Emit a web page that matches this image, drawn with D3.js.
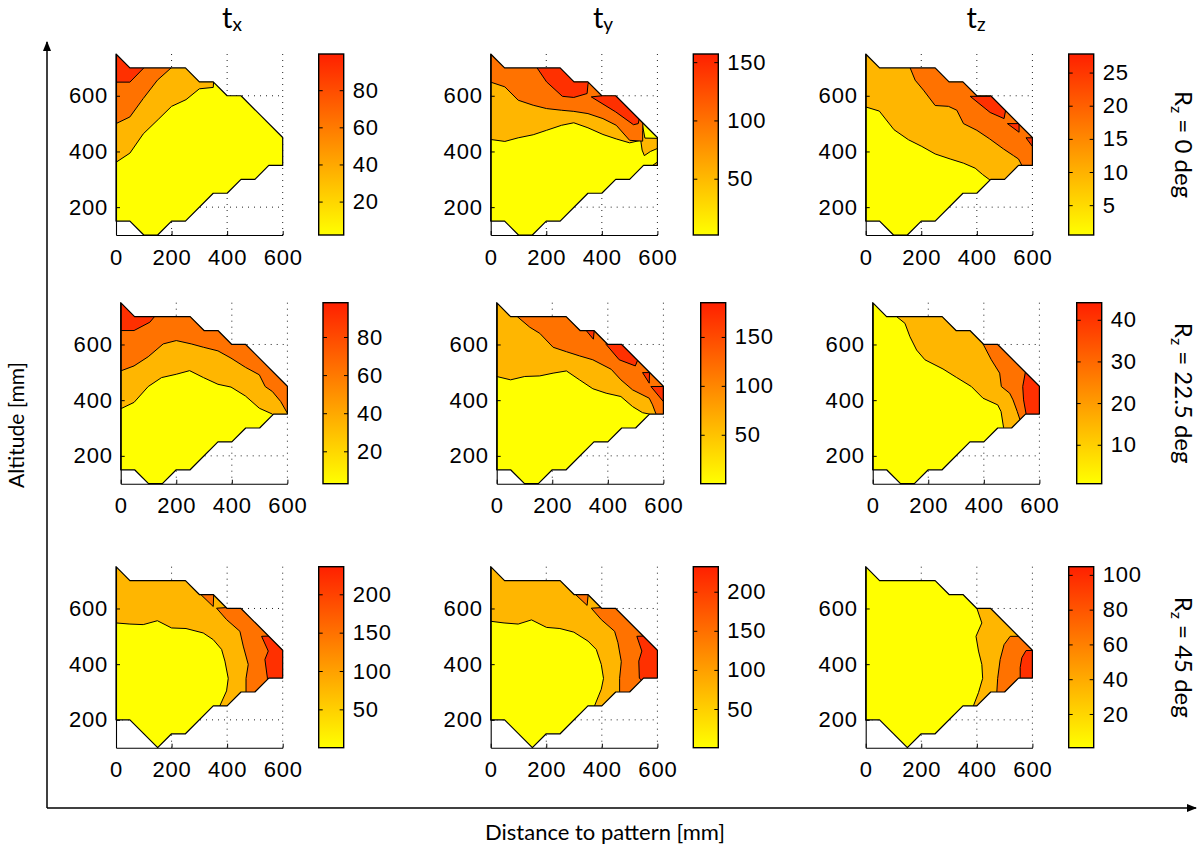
<!DOCTYPE html>
<html>
<head>
<meta charset="utf-8">
<script src="https://cdn.jsdelivr.net/npm/d3@7"></script>
<style>
body { margin: 0; background: #fff; }
text { font-family: "Liberation Sans", Arial, sans-serif; }
.lab { font-family: Lato, "Open Sans", sans-serif; }
</style>
</head>
<body>
<div id="chart"></div>
<script>
// column / row labels
const components = ["x", "y", "z"]
const rotations = ["0", "22.5", "45"]
const xTicks = [0, 200, 400, 600]
const yTicks = [200, 400, 600]

// measured region of each panel (mm)
const domainFull = [[0,750],[50,700],[250,700],[300,650],[350,650],[400,600],[450,600],[600,450],[600,350],[550,350],[500,300],[450,300],[400,250],[350,250],[250,150],[200,150],[150,100],[100,100],[50,150],[0,150]]
const domainCut = [[0,750],[50,700],[250,700],[300,650],[350,650],[400,600],[450,600],[600,450],[600,350],[550,350],[500,300],[450,300],[400,250],[350,250],[250,150],[200,150],[150,100],[50,200],[0,200]]

// colour bar ranges and ticks, row by row
const cbarRange = [[2, 99.5], [1.7, 157], [0.5, 27.8], [3, 98], [0, 185], [0.65, 44.1], [0, 236], [0.5, 232], [0.6, 104.7]]
const cbarTicks = [[20,40,60,80], [50,100,150], [5,10,15,20,25], [20,40,60,80], [50,100,150], [10,20,30,40], [50,100,150,200], [50,100,150,200], [20,40,60,80,100]]

// filled contour levels: for each level a list of regions (x, altitude), clipped to the domain
const txRz0 = [
    [[[-10,361],[0,361],[50,394],[98,463],[152,515],[200,562],[252,586],[300,625],[350,630],[352,660],[352,800],[-10,800]]],
    [[[-10,500],[0,500],[50,524],[98,590],[149,656],[205,706],[205,800],[-10,800]]],
    [[[-10,649],[50,649],[105,705],[105,800],[-10,800]]]
]
const tyRz0 = [
    [[[-10,443],[0,443],[51,436],[99,449],[153,460],[201,476],[255,494],[299,503],[350,485],[404,461],[452,445],[500,431],[540,440],[545,405],[553,385],[575,400],[610,415],[610,447],[555,448],[544,508],[544,800],[-10,800]],
     [[583,350],[600,362],[610,362],[610,340],[583,340]]],
    [[[-10,649],[0,649],[51,632],[99,584],[153,566],[201,554],[255,548],[299,544],[350,536],[404,518],[452,494],[500,440],[547,437],[547,476],[548,510],[548,800],[-10,800]]],
    [[[160,710],[167,700],[201,650],[258,598],[299,594],[347,608],[350,640],[355,660],[355,800],[160,800]],
     [[362,596],[400,600],[405,610],[470,650],[560,560],[535,518],[531,500],[514,496],[450,542]]]
]
const tzRz0 = [
    [[[-10,560],[0,560],[49,545],[102,478],[154,442],[202,418],[250,391],[304,373],[352,358],[394,340],[421,317],[448,297],[460,285],[700,285],[700,800],[-10,800]]],
    [[[150,710],[160,700],[178,656],[208,620],[250,565],[298,562],[328,548],[352,500],[400,476],[445,446],[496,409],[532,385],[550,373],[562,350],[565,340],[700,340],[700,800],[150,800]]],
    [[[376,598],[448,598],[455,610],[505,555],[498,518],[448,540]],
     [[510,500],[552,500],[552,469]],
     [[577,449],[605,449],[605,418],[600,418]]]
]
const txRz22 = [
    [[[-10,369],[0,369],[48,392],[99,449],[147,481],[200,493],[248,506],[298,481],[350,457],[397,447],[449,415],[499,371],[546,350],[550,340],[700,340],[700,800],[-10,800]]],
    [[[-10,505],[0,505],[48,523],[99,556],[153,602],[200,614],[254,602],[298,590],[350,577],[397,551],[449,518],[499,491],[520,449],[546,431],[576,395],[600,353],[610,353],[610,800],[-10,800]]],
    [[[-10,650],[48,650],[105,680],[130,710],[130,800],[-10,800]]]
]
const tyRz22 = [
    [[[-10,485],[0,485],[50,473],[101,485],[155,487],[203,497],[251,505],[298,473],[346,441],[394,425],[447,413],[489,377],[525,355],[550,350],[555,340],[700,340],[700,800],[-10,800]]],
    [[[70,710],[74,700],[119,662],[155,640],[203,590],[251,574],[298,559],[346,545],[412,511],[447,473],[489,437],[549,407],[561,383],[573,351],[575,340],[700,340],[700,800],[70,800]]],
    [[[318,655],[352,660],[348,619]],
     [[394,600],[395,610],[455,610],[510,550],[499,523],[441,545]],
     [[525,499],[550,499],[549,461]],
     [[555,449],[600,449],[600,395]]]
]
const tzRz22 = [
    [[[80,710],[86,700],[116,676],[134,628],[158,580],[188,545],[253,512],[301,482],[355,449],[397,407],[450,383],[462,359],[471,302],[475,290],[700,290],[700,800],[80,800]]],
    [[[390,620],[396,604],[427,545],[457,497],[463,449],[493,425],[505,401],[520,360],[530,330],[535,318],[700,318],[700,800],[390,800]]],
    [[[548,510],[550,503],[540,449],[543,401],[552,351],[555,340],[700,340],[700,510]]]
]
const txRz45 = [
    [[[-10,548],[0,548],[50,544],[98,542],[149,556],[200,530],[252,528],[314,512],[350,488],[380,453],[392,411],[404,349],[398,304],[374,251],[372,240],[700,240],[700,800],[-10,800]]],
    [[[300,655],[352,660],[350,607]],
     [[362,601],[398,560],[446,518],[458,465],[476,399],[468,349],[468,301],[470,290],[700,290],[700,620],[400,620],[398,603]]],
    [[[524,500],[550,501],[560,510],[620,450],[620,340],[545,340],[545,350],[536,417],[548,447]]]
]
const tyRz45 = [
    [[[-10,554],[0,554],[48,548],[99,544],[147,559],[201,532],[249,528],[299,515],[350,483],[380,453],[398,399],[406,349],[398,310],[374,251],[372,240],[700,240],[700,800],[-10,800]]],
    [[[300,655],[352,660],[347,611]],
     [[362,601],[398,560],[446,518],[458,477],[470,409],[464,349],[464,301],[466,290],[700,290],[700,620],[400,620],[398,603]]],
    [[[526,500],[550,501],[560,510],[620,450],[620,340],[545,340],[535,350],[533,411],[544,447]]]
]
const tzRz45 = [
    [[[395,620],[400,601],[418,548],[397,500],[406,447],[418,399],[421,349],[406,298],[388,251],[385,240],[700,240],[700,620]]],
    [[[520,500],[560,500],[570,520],[700,520],[700,290],[475,290],[472,301],[475,349],[484,417],[498,470]]],
    [[[577,449],[610,449],[610,340],[556,340],[556,388],[562,423]]]
]

const contours = [txRz0, tyRz0, tzRz0, txRz22, tyRz22, tzRz22, txRz45, tyRz45, tzRz45]
const levelColors = ["#ffff00", "#ffb600", "#ff7200", "#ff3000"]

// layout (pixels)
const rowTop = [54, 302.7, 566.7]
const plotW = 166.7, plotH = 181, cbarW = 25
const plotX = [[116, 490.7, 865.7], [120.7, 496.7, 872.7], [116, 490.7, 865.7]]
const cbarX = [[318.7, 693.3, 1068.7], [323, 700.7, 1076.7], [318.7, 693.3, 1068.7]]

const svg = d3.select("#chart")
    .append("svg")
    .attr("width", 1203)
    .attr("height", 852)

const defs = svg.append("defs")
const grad = defs.append("linearGradient")
    .attr("id", "cmap")
    .attr("x1", 0).attr("y1", 1).attr("x2", 0).attr("y2", 0)
grad.append("stop").attr("offset", 0).attr("stop-color", "#ffff00")
grad.append("stop").attr("offset", 1).attr("stop-color", "#ff2000")

const arrow = defs.append("marker")
    .attr("id", "arrow")
    .attr("viewBox", "0 0 10 10")
    .attr("refX", 9).attr("refY", 5)
    .attr("markerWidth", 7).attr("markerHeight", 7)
    .attr("orient", "auto")
arrow.append("path").attr("d", "M0,1 L10,5 L0,9 Z").attr("fill", "#000")

const tickStyle = sel => sel
    .attr("font-size", 22)
    .attr("fill", "#000")
    .style("letter-spacing", "0.8px")
    .style("font-family", "'Liberation Sans', Arial, sans-serif")

contours.forEach((levels, i) => {
    const r = Math.floor(i / 3), c = i % 3
    const x0 = plotX[r][c], top = rowTop[r], bottom = top + plotH
    const domain = r === 2 ? domainCut : domainFull

    const x = d3.scaleLinear().domain([0, 600]).range([x0, x0 + plotW])
    const y = d3.scaleLinear().domain([100, 750]).range([bottom, top])
    const shape = d3.line().x(d => x(d[0])).y(d => y(d[1]))
    const closed = pts => shape(pts) + "Z"

    const g = svg.append("g")

    defs.append("clipPath")
        .attr("id", `clip-${i}`)
        .append("path")
        .attr("d", closed(domain))

    // dotted grid
    g.selectAll(".gx")
        .data(xTicks.filter(t => t > 0))
        .enter()
        .append("line")
        .attr("x1", d => x(d)).attr("x2", d => x(d))
        .attr("y1", y(100)).attr("y2", y(750))
        .attr("stroke", "#222").attr("stroke-width", 1).attr("stroke-dasharray", "1,5")
    g.selectAll(".gy")
        .data(yTicks)
        .enter()
        .append("line")
        .attr("x1", x(0)).attr("x2", x(600))
        .attr("y1", d => y(d)).attr("y2", d => y(d))
        .attr("stroke", "#222").attr("stroke-width", 1).attr("stroke-dasharray", "1,5")

    // filled contours
    g.append("path")
        .attr("d", closed(domain))
        .attr("fill", levelColors[0])

    levels.forEach((regions, k) => {
        g.selectAll(`.lv${k}`)
            .data(regions)
            .enter()
            .append("path")
            .attr("d", closed)
            .attr("fill", levelColors[k + 1])
            .attr("stroke", "#000")
            .attr("stroke-width", 1)
            .attr("stroke-linejoin", "round")
            .attr("clip-path", `url(#clip-${i})`)
    })

    g.append("path")
        .attr("d", closed(domain))
        .attr("fill", "none")
        .attr("stroke", "#000")
        .attr("stroke-width", 1.2)
        .attr("stroke-linejoin", "round")

    // axes
    const ax = g.append("g")
        .attr("transform", `translate(0,${bottom})`)
        .call(d3.axisBottom(x).tickValues(xTicks).tickSizeInner(-4).tickSizeOuter(0).tickPadding(14))
    const ay = g.append("g")
        .attr("transform", `translate(${x0},0)`)
        .call(d3.axisLeft(y).tickValues(yTicks).tickSizeInner(-4).tickSizeOuter(0).tickPadding(8))
    ;[ax, ay].forEach(a => {
        a.selectAll("text").call(tickStyle)
        a.select(".domain").attr("stroke-width", 1.1)
    })

    // colour bar
    const cx = cbarX[r][c]
    const cy = d3.scaleLinear().domain(cbarRange[i]).range([bottom, top])
    g.append("rect")
        .attr("x", cx).attr("y", top)
        .attr("width", cbarW).attr("height", plotH)
        .attr("fill", "url(#cmap)")
    const cr = g.append("g")
        .attr("transform", `translate(${cx + cbarW},0)`)
        .call(d3.axisRight(cy).tickValues(cbarTicks[i]).tickSizeInner(-4).tickSizeOuter(0).tickPadding(9))
    cr.selectAll("text").call(tickStyle)
    const cl = g.append("g")
        .attr("transform", `translate(${cx},0)`)
        .call(d3.axisLeft(cy).tickValues(cbarTicks[i]).tickSizeInner(-4).tickSizeOuter(0).tickFormat(""))
    ;[cr, cl].forEach(a => a.select(".domain").remove())
    g.append("rect")
        .attr("x", cx).attr("y", top)
        .attr("width", cbarW).attr("height", plotH)
        .attr("fill", "none")
        .attr("stroke", "#000")
        .attr("stroke-width", 1.4)
})

// column titles
const titleX = [232, 603, 976]
components.forEach((comp, c) => {
    const t = svg.append("text")
        .attr("class", "lab")
        .attr("x", titleX[c]).attr("y", 28)
        .attr("text-anchor", "middle")
        .attr("font-size", 29)
    t.append("tspan").text("t")
    t.append("tspan").attr("font-size", 19).attr("dy", 3).text(comp)
})

// row labels
rotations.forEach((rot, r) => {
    const t = svg.append("text")
        .attr("class", "lab")
        .attr("transform", `translate(1175,${rowTop[r] + plotH / 2}) rotate(90)`)
        .attr("text-anchor", "middle")
        .attr("font-size", 24)
    t.append("tspan").text("R")
    t.append("tspan").attr("font-size", 16).attr("dy", 4).text("z")
    t.append("tspan").attr("dy", -4).text(` = ${rot} deg`)
})

// big axes with arrows
svg.append("line")
    .attr("x1", 47).attr("y1", 808).attr("x2", 47).attr("y2", 42)
    .attr("stroke", "#000").attr("stroke-width", 1.5)
    .attr("marker-end", "url(#arrow)")
svg.append("line")
    .attr("x1", 47).attr("y1", 808).attr("x2", 1196).attr("y2", 808)
    .attr("stroke", "#000").attr("stroke-width", 1.5)
    .attr("marker-end", "url(#arrow)")

svg.append("text")
    .attr("class", "lab")
    .attr("transform", "translate(24,425) rotate(-90)")
    .attr("text-anchor", "middle")
    .attr("font-size", 21)
    .text("Altitude [mm]")
svg.append("text")
    .attr("class", "lab")
    .attr("x", 605).attr("y", 840)
    .attr("text-anchor", "middle")
    .attr("font-size", 22)
    .text("Distance to pattern [mm]")
</script>
</body>
</html>
